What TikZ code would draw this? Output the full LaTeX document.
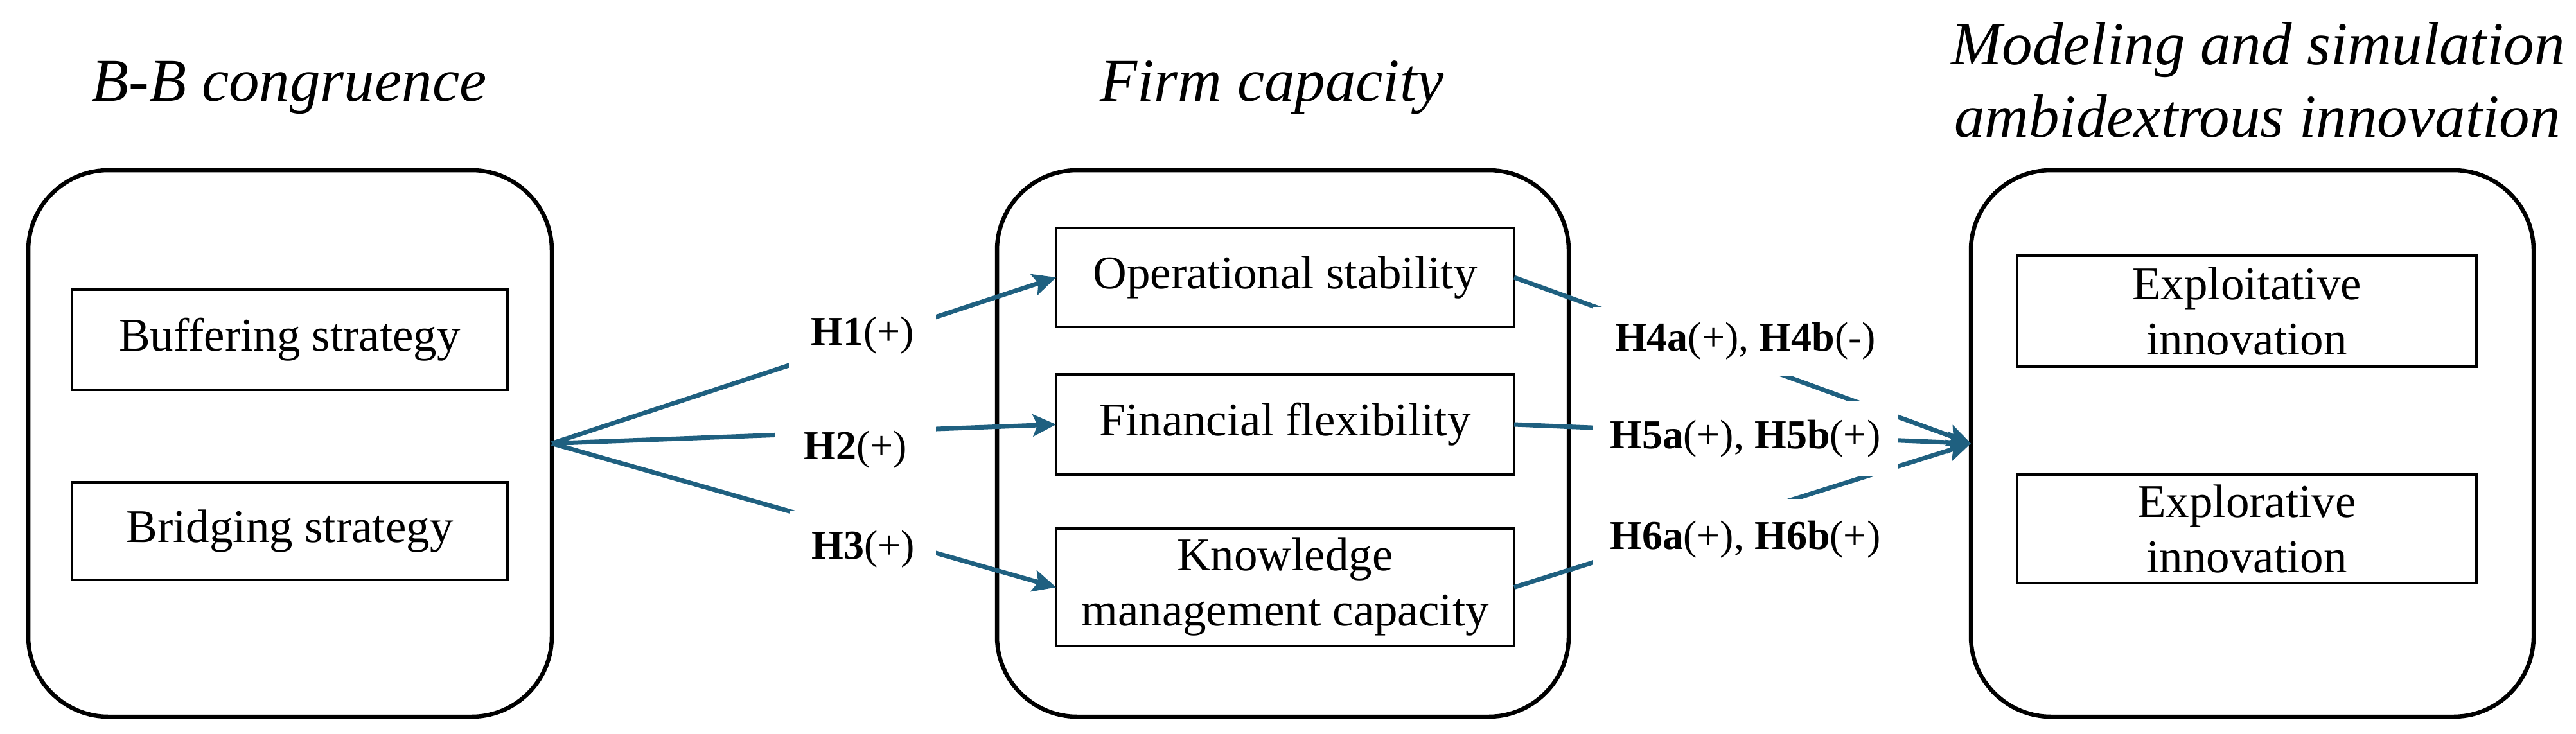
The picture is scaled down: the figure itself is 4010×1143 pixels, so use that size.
\documentclass[tikz,border=0pt]{standalone}
\usepackage{fontspec}
\setmainfont{Liberation Serif}
\usetikzlibrary{arrows.meta}
\definecolor{arrowblue}{RGB}{31,96,128}
\begin{document}
\begin{tikzpicture}[x=1pt,y=-1pt,
  outerbox/.style={draw=black, line width=6.5pt, rounded corners=125pt, inner sep=0pt, outer sep=0pt, minimum height=851pt},
  innerbox/.style={draw=black, line width=4.5pt, inner sep=0pt, outer sep=0pt, align=center, font=\fontsize{73}{86}\selectfont},
  hyp/.style={fill=white, inner sep=0pt, outer sep=0pt, font=\fontsize{64}{76}\selectfont},
  titletext/.style={font=\fontsize{95}{113}\selectfont\itshape, inner sep=0pt, anchor=base},
  link/.style={draw=arrowblue, line width=7pt, -{Stealth[length=36pt,width=34pt,inset=7pt]}}]
\useasboundingbox (0,0) rectangle (4010,1143);

% titles
\node[titletext] (t1) at (450,157) {B-B congruence};
\node[titletext] (t2) at (1980,157) {Firm capacity};
\node[titletext] (t3a) at (3515,100) {Modeling and simulation};
\node[titletext] (t3b) at (3514,213) {ambidextrous innovation};

% outer boxes
\node[outerbox, minimum width=815pt] (bb) at (451.5,690.5) {};
\node[outerbox, minimum width=890pt] (fc) at (1997,690.5) {};
\node[outerbox, minimum width=876pt] (ms) at (3506,690.5) {};

% inner boxes
\node[innerbox, minimum width=678pt, minimum height=156pt] (buf) at (451,529) {Buffering strategy};
\node[innerbox, minimum width=678pt, minimum height=152pt] (bri) at (451,827) {Bridging strategy};
\node[innerbox, minimum width=713pt, minimum height=154pt] (ops) at (2000.5,432) {Operational stability};
\node[innerbox, minimum width=713pt, minimum height=156pt] (fin) at (2000.5,661) {Financial flexibility};
\node[innerbox, minimum width=713pt, minimum height=183pt] (kmc) at (2000.5,914.5) {Knowledge\\management capacity};
\node[innerbox, minimum width=715pt, minimum height=173pt] (exi) at (3497.5,484.5) {Exploitative\\innovation};
\node[innerbox, minimum width=715pt, minimum height=169pt] (exr) at (3497.5,823.5) {Explorative\\innovation};

% connectors
\draw[link] (bb.east) -- (ops.west);
\draw[link] (bb.east) -- (fin.west);
\draw[link] (bb.east) -- (kmc.west);
\draw[link] (ops.east) -- (ms.west);
\draw[link] (fin.east) -- (ms.west);
\draw[link] (kmc.east) -- (ms.west);

% hypothesis labels (white boxes interrupt the connectors)
\node[hyp, minimum width=229pt, minimum height=105pt] (h1) at (1342.5,522.5) {\textbf{H1}(+)};
\node[hyp, minimum width=250pt, minimum height=90pt] (h2) at (1332,700) {\textbf{H2}(+)};
\node[hyp, minimum width=227pt, minimum height=120pt] (h3) at (1343.5,855) {\textbf{H3}(+)};
\node[hyp, minimum width=474pt, minimum height=107pt] (h4) at (2717,531.5) {\textbf{H4a}(+), \textbf{H4b}(-)};
\node[hyp, minimum width=474pt, minimum height=118pt] (h5) at (2717,683) {\textbf{H5a}(+), \textbf{H5b}(+)};
\node[hyp, minimum width=474pt, minimum height=126pt] (h6) at (2717,840) {\textbf{H6a}(+), \textbf{H6b}(+)};
\end{tikzpicture}
\end{document}
